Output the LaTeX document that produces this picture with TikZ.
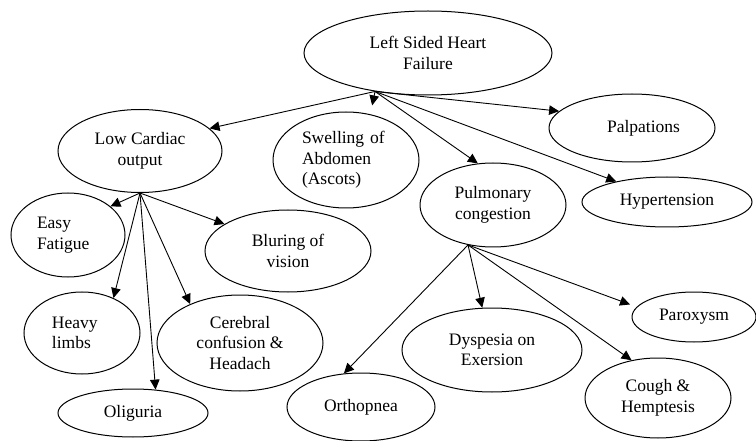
\documentclass[tikz,border=0pt]{standalone}
\usepackage{fontspec}
\setmainfont{Liberation Serif}
\usetikzlibrary{shapes.geometric,arrows.meta}
\begin{document}
\begin{tikzpicture}[x=1pt,y=-1pt,
  bub/.style={draw, ellipse, line width=1pt, inner sep=0pt,
              font=\fontsize{17.5}{20.5}\selectfont, align=center},
  arr/.style={line width=0.9pt, -{Triangle[length=10pt,width=9.5pt]}},
]
\useasboundingbox (0,0) rectangle (756,441);

% ellipses
\node[bub, minimum width=248pt, minimum height=84pt] (top)   at (428,53)  {Left Sided Heart\\Failure};
\node[bub, minimum width=164pt, minimum height=83pt] (low)   at (140,151) {Low Cardiac\\output};
\node[bub, minimum width=146pt, minimum height=96pt, text width=88pt, align=left] (swell) at (346,160) {Swelling of\\Abdomen\\(Ascots)};
\node[bub, minimum width=166pt, minimum height=68pt, text width=96pt, align=right] (palp) at (632,128) {Palpations};
\node[bub, minimum width=170pt, minimum height=50pt] (hyper) at (667,202) {Hypertension};
\node[bub, minimum width=146pt, minimum height=84pt] (pulm)  at (493,205) {Pulmonary\\congestion};
\node[bub, minimum width=114pt, minimum height=84pt, text width=62pt, align=left] (fat) at (68,235) {Easy\\Fatigue};
\node[bub, minimum width=166pt, minimum height=82pt] (blur)  at (288,251) {Bluring of\\vision};
\node[bub, minimum width=116pt, minimum height=82pt, text width=60pt, align=left] (heavy) at (82,333) {Heavy\\limbs};
\node[bub, minimum width=166pt, minimum height=96pt] (cereb) at (240,343) {Cerebral\\confusion \&\\Headach};
\node[bub, minimum width=150pt, minimum height=48pt] (olig)  at (133,413) {Oliguria};
\node[bub, minimum width=148pt, minimum height=68pt] (orth)  at (361,407) {Orthopnea};
\node[bub, minimum width=180pt, minimum height=84pt] (dysp)  at (492,350) {Dyspesia on\\Exersion};
\node[bub, minimum width=124pt, minimum height=50pt] (parox) at (694,317) {Paroxysm};
\node[bub, minimum width=146pt, minimum height=80pt] (cough) at (658,398) {Cough \&\\Hemptesis};

% branches from the top ellipse
\draw[arr] (top.216) -- (low.18);
\draw[arr, shorten >=9pt] (top.216) -- (swell.62);
\draw[arr] (top.216) -- (palp.167);
\draw[arr] (top.216) -- (hyper.158);
\draw[arr] (top.216) -- (pulm.110);

% branches from low cardiac output
\draw[arr] (low.south) -- (fat.34);
\draw[arr] (low.south) -- (blur.157);
\draw[arr] (low.south) -- (heavy.48);
\draw[arr] (low.south) -- (cereb.142);
\draw[arr] (low.south) -- (olig.46);

% branches from pulmonary congestion
\draw[arr] (pulm.238) -- (orth.117);
\draw[arr] (pulm.238) -- (dysp.103);
\draw[arr, shorten >=7pt] (pulm.238) -- (parox.170);
\draw[arr] (pulm.238) -- (cough.125);
\end{tikzpicture}
\end{document}
